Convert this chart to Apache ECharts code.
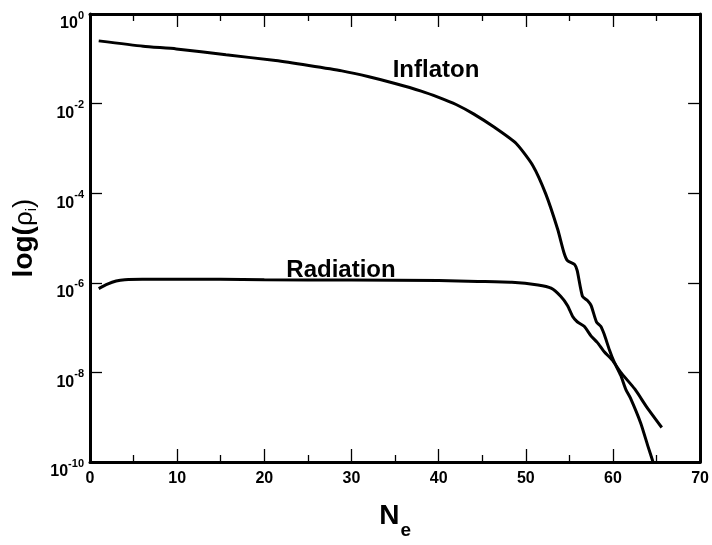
<!DOCTYPE html>
<html><head><meta charset="utf-8">
<script src="https://cdn.jsdelivr.net/npm/echarts@6/dist/echarts.min.js"></script>
<style>html,body{margin:0;padding:0;background:#fff}#c{width:712px;height:545px}</style>
</head><body><div id="c"></div>
<script>
// Number of e-folds N_e and log10(rho)
const inflatonN = [1, 6.1, 9.9, 15.6, 21.3, 25.1, 28.9, 32.0, 35.0, 38.0, 40.0, 42.0, 44.0, 46.4, 48.9, 50.8, 52.3, 53.65, 54.4, 54.8, 55.6, 55.9, 56.5, 57.1, 57.5, 58.1, 58.6, 59.0, 59.6, 60.1, 60.9, 61.5, 62.0, 63.2, 64.0, 64.6];
const inflatonLog = [-0.60, -0.72, -0.78, -0.91, -1.04, -1.15, -1.27, -1.40, -1.55, -1.72, -1.86, -2.02, -2.23, -2.53, -2.89, -3.38, -4.02, -4.80, -5.34, -5.51, -5.59, -5.73, -6.30, -6.40, -6.51, -6.87, -6.97, -7.15, -7.50, -7.75, -8.07, -8.39, -8.57, -9.14, -9.64, -10.0];
const radiationN = [1, 2, 3, 4, 6, 10, 15, 20, 30, 40, 44.5, 48.4, 51.4, 52.9, 54.0, 54.8, 55.4, 55.9, 56.7, 57.5, 58.2, 59.0, 59.9, 60.9, 62.5, 63.9, 65.6];
const radiationLog = [-6.13, -6.03, -5.96, -5.93, -5.92, -5.92, -5.92, -5.93, -5.94, -5.95, -5.97, -5.99, -6.05, -6.12, -6.30, -6.51, -6.76, -6.87, -6.97, -7.19, -7.33, -7.54, -7.72, -8.00, -8.37, -8.78, -9.23];
const seriesNames = ['Inflaton', 'Radiation'];
const labelN = [39.7, 28.8];
const labelLog = [-1.26, -5.73];
const xMin = 0, xMax = 70, xStep = 10;
const yMin = -10, yMax = 0, yStep = 2;

const FONT = '"Liberation Sans", Arial, Helvetica, sans-serif';
const chart = echarts.init(document.getElementById('c'), null, {renderer: 'canvas'});
const zip = (a, b) => a.map((v, i) => [v, b[i]]);

function xAx(pos, showLabel) {
  return {
    type: 'value', position: pos, min: xMin, max: xMax, interval: xStep,
    axisLine: {show: true, onZero: false, lineStyle: {color: '#000', width: 3}},
    axisTick: {show: true, inside: true, length: 13, lineStyle: {color: '#000', width: 1.3}},
    minorTick: {show: true, splitNumber: 2, length: 7, lineStyle: {color: '#000', width: 1.3}},
    splitLine: {show: false},
    axisLabel: {show: showLabel, margin: 9, color: '#000', fontFamily: FONT, fontWeight: 'bold', fontSize: 16},
    name: showLabel ? '{n|N}{e|e}' : '',
    nameLocation: 'middle', nameGap: 40,
    nameTextStyle: {color: '#000', fontFamily: FONT, fontWeight: 'bold',
      rich: {
        n: {fontFamily: FONT, fontWeight: 'bold', fontSize: 28, lineHeight: 28, verticalAlign: 'top', color: '#000'},
        e: {fontFamily: FONT, fontWeight: 'bold', fontSize: 19, lineHeight: 19, padding: [19, 0, 0, 1], verticalAlign: 'top', color: '#000'}
      }}
  };
}
function yAx(pos, showLabel) {
  return {
    type: 'value', position: pos, min: yMin, max: yMax, interval: yStep,
    axisLine: {show: true, onZero: false, lineStyle: {color: '#000', width: 3}},
    axisTick: {show: true, inside: true, length: 12, lineStyle: {color: '#000', width: 1.3}},
    splitLine: {show: false},
    axisLabel: {show: showLabel, margin: 6, color: '#000',
      formatter: v => '{b|10}{s|' + v + '}',
      rich: {
        b: {fontFamily: FONT, fontWeight: 'bold', fontSize: 16, lineHeight: 16, padding: [10, 0, 0, 0], verticalAlign: 'top', color: '#000'},
        s: {fontFamily: FONT, fontWeight: 'bold', fontSize: 11, lineHeight: 11, padding: [4, 0, 11, 0], verticalAlign: 'top', color: '#000'}
      }},
    name: showLabel ? '{b|log(}{r|\u03c1}{i|i}{p|)}' : '',
    nameLocation: 'middle', nameGap: 47,
    nameTextStyle: {color: '#000',
      rich: {
        b: {fontFamily: FONT, fontWeight: 'bold', fontSize: 28, lineHeight: 30, color: '#000'},
        r: {fontFamily: FONT, fontWeight: 'normal', fontSize: 26, lineHeight: 30, color: '#000'},
        i: {fontFamily: FONT, fontWeight: 'normal', fontSize: 15, lineHeight: 15, padding: [15, 0, 0, 0], color: '#000'},
        p: {fontFamily: FONT, fontWeight: 'normal', fontSize: 28, lineHeight: 30, color: '#000'}
      }}
  };
}

chart.setOption({
  animation: false,
  backgroundColor: '#fff',
  grid: {left: 90, right: 9, top: 14, bottom: 62, containLabel: false},
  xAxis: [xAx('bottom', true), xAx('top', false)],
  yAxis: [yAx('left', true), yAx('right', false)],
  series: [
    {name: seriesNames[0], type: 'line', data: zip(inflatonN, inflatonLog), showSymbol: false, smooth: 0.2,
     lineStyle: {color: '#000', width: 3}, clip: true},
    {name: seriesNames[1], type: 'line', data: zip(radiationN, radiationLog), showSymbol: false, smooth: 0.2,
     lineStyle: {color: '#000', width: 3}, clip: true},
    {type: 'scatter', symbol: 'circle', symbolSize: 0, itemStyle: {color: '#000'}, silent: true,
     data: seriesNames.map((n, i) => ({value: [labelN[i], labelLog[i]], name: n})),
     label: {show: true, position: 'inside', formatter: p => p.name, color: '#000', opacity: 1,
       textBorderWidth: 0, fontFamily: FONT, fontWeight: 'bold', fontSize: 24}}
  ]
});
</script></body></html>
